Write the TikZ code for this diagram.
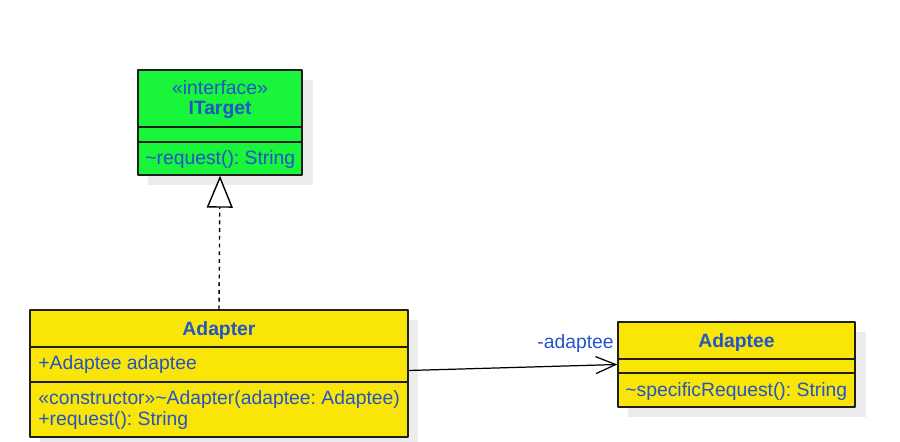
\documentclass[tikz,border=0pt]{standalone}
\usepackage{fontspec}
\setmainfont{Liberation Sans}
\usetikzlibrary{arrows.meta}
\definecolor{igreen}{RGB}{25,245,58}
\definecolor{cyellow}{RGB}{249,229,6}
\definecolor{umlblue}{RGB}{36,84,200}
\definecolor{shadowgrey}{RGB}{236,236,236}
\definecolor{edge}{RGB}{30,30,30}
\frenchspacing
\begin{document}
\begin{tikzpicture}[x=0.02cm,y=-0.02cm,font=\fontsize{11}{13}\selectfont,line join=round,>=Stealth]
	\tikzset{classbox/.style={draw=edge,line width=0.8pt,inner sep=0pt},
		divider/.style={draw=edge,line width=0.8pt},
		shade box/.style={fill=shadowgrey},
		member/.style={text=umlblue,anchor=west,inner sep=0pt},
		title/.style={text=umlblue,font=\fontsize{11}{13}\selectfont\bfseries,inner sep=0pt}}
	\useasboundingbox (0,0) rectangle (900,442);
	% shadows
	\fill[shade box] (148,80) rectangle (313,185);
	\fill[shade box] (40,320) rectangle (418,442);
	\fill[shade box] (628,332) rectangle (866,417);
	% ITarget
	\node[classbox,fill=igreen,minimum width=3.28cm,minimum height=2.1cm] (itarget) at (220,122.5) {};
	\draw[divider] (138,127) -- (302,127);
	\draw[divider] (138,142) -- (302,142);
	\node[title,font=\fontsize{11}{13}\selectfont] (itarget-st) at (220,88) {«interface»};
	\node[title] (itarget-name) at (220,110) {ITarget};
	\node[member] (itarget-op) at (145,160) {\textasciitilde request(): String};
	% Adapter
	\node[classbox,fill=cyellow,minimum width=7.56cm,minimum height=2.54cm] (adapter) at (219,373.5) {};
	\draw[divider] (30,347) -- (408,347);
	\draw[divider] (30,382) -- (408,382);
	\node[title] (adapter-name) at (219,331) {Adapter};
	\node[member] (adapter-attr) at (38,365) {+Adaptee adaptee};
	\node[member] (adapter-ctor) at (38,400) {«constructor»\textasciitilde Adapter(adaptee: Adaptee)};
	\node[member] (adapter-op) at (38,421) {+request(): String};
	% Adaptee
	\node[classbox,fill=cyellow,minimum width=4.74cm,minimum height=1.7cm] (adaptee) at (736.5,364.5) {};
	\draw[divider] (618,359) -- (855,359);
	\draw[divider] (618,373) -- (855,373);
	\node[title] (adaptee-name) at (736.5,343) {Adaptee};
	\node[member] (adaptee-op) at (625,392) {\textasciitilde specificRequest(): String};
	% relations
	\draw[line width=0.8pt,dash pattern=on 2.2pt off 2.2pt,-{Triangle[open,length=0.64cm,width=0.52cm,line width=0.8pt,fill=white]}] (adapter.north) -- (itarget.south);
	\draw[line width=0.7pt,-{Straight Barb[length=0.4cm,width=0.34cm,line width=0.7pt]}] ([yshift=0.06cm]adapter.east) -- (adaptee.west);
	\node[text=umlblue,anchor=east,inner sep=0pt] (role) at (614,344) {-adaptee};
\end{tikzpicture}
\end{document}
